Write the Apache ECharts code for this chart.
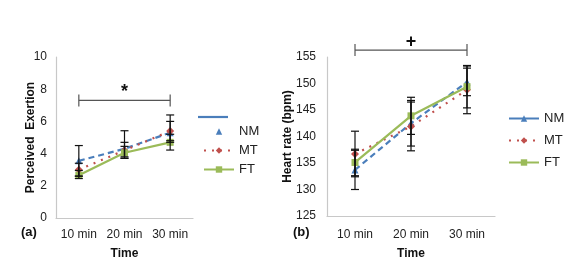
<!DOCTYPE html>
<html>
<head>
<meta charset="utf-8">
<script src="https://cdn.jsdelivr.net/npm/echarts@6/dist/echarts.min.js"></script>
<style>
  html, body { margin: 0; padding: 0; background: #fff; }
  #main { width: 566px; height: 262px; }
</style>
</head>
<body>
<div id="main"></div>
<script>
// categories
var cats = ['10 min', '20 min', '30 min'];

// (a) perceived exertion  (means, error minus / plus)
var rpeNM = [3.55, 4.3, 5.3];
var rpeMT = [3.0, 4.2, 5.4];
var rpeFT = [2.65, 4.05, 4.7];
var rpeNMminus = [0.95, 0.5, 0.6];
var rpeNMplus = [0.95, 1.12, 1.1];
var rpeMTminus = [0.4, 0.5, 0.6];
var rpeMTplus = [0.4, 0.5, 0.6];
var rpeFTminus = [0.2, 0.33, 0.48];
var rpeFTplus = [0.3, 0.4, 0.5];
var rpeTicks = [0, 10, 2];
var rpeBracket = [[0, 2, 7.3]];

// (b) heart rate
var hrNM = [133.7, 142.5, 150.3];
var hrMT = [136.7, 141.9, 148.8];
var hrFT = [135.1, 143.9, 149.4];
var hrNMsd = [3.7, 4.3, 2.6];
var hrMTsd = [4.3, 4.6, 4.5];
var hrFTsd = [2.5, 3.5, 4.0];
var hrTicks = [125, 155, 5];
var hrBracket = [[0, 2, 156.3]];

var FONT = 'Liberation Sans, Arial, sans-serif';
var cNM = '#4a7ebb', cMT = '#c0504d', cFT = '#9bbb59';

function errData(mean, minus, plus) {
    return mean.map(function (m, i) { return [i, m - minus[i], m + plus[i]]; });
}

function renderErr(params, api) {
    var lo = api.coord([api.value(0), api.value(1)]);
    var hi = api.coord([api.value(0), api.value(2)]);
    var st = { stroke: '#111', lineWidth: 1.2 };
    return {
        type: 'group',
        children: [
            { type: 'line', shape: { x1: lo[0], y1: lo[1], x2: hi[0], y2: hi[1] }, style: st },
            { type: 'line', shape: { x1: lo[0] - 4, y1: lo[1], x2: lo[0] + 4, y2: lo[1] }, style: st },
            { type: 'line', shape: { x1: hi[0] - 4, y1: hi[1], x2: hi[0] + 4, y2: hi[1] }, style: st }
        ]
    };
}

function bracketRender(mark) {
    return function (params, api) {
        var p1 = api.coord([api.value(0), api.value(2)]);
        var p2 = api.coord([api.value(1), api.value(2)]);
        var st = { stroke: '#555', lineWidth: 1.2 };
        return {
            type: 'group',
            children: [
                { type: 'line', shape: { x1: p1[0], y1: p1[1], x2: p2[0], y2: p2[1] }, style: st },
                { type: 'line', shape: { x1: p1[0], y1: p1[1] - 6, x2: p1[0], y2: p1[1] + 6 }, style: st },
                { type: 'line', shape: { x1: p2[0], y1: p2[1] - 6, x2: p2[0], y2: p2[1] + 6 }, style: st },
                { type: 'text', x: (p1[0] + p2[0]) / 2, y: p1[1] - 8,
                  style: { text: mark, font: 'bold 18px ' + FONT, fill: '#111', align: 'center', verticalAlign: 'middle' } }
            ]
        };
    };
}

function lineSeries(name, data, idx, color, symbol, size, ltype) {
    return {
        name: name, type: 'line', xAxisIndex: idx, yAxisIndex: idx,
        data: data, symbol: symbol, symbolSize: size,
        lineStyle: { color: color, width: 2.2, type: ltype },
        itemStyle: { color: color },
        z: 3
    };
}

function errSeries(mean, minus, plus, idx) {
    return {
        type: 'custom', xAxisIndex: idx, yAxisIndex: idx,
        data: errData(mean, minus, plus), encode: { x: 0, y: [1, 2] },
        renderItem: renderErr, z: 5, silent: true
    };
}

var axLabel = { color: '#222', fontSize: 12, fontFamily: FONT };
var axName = { color: '#111', fontSize: 12, fontWeight: 'bold', fontFamily: FONT };
var axLine = { show: true, lineStyle: { color: '#c8c8c8', width: 1.2 } };

var chart = echarts.init(document.getElementById('main'));
var option = {
    backgroundColor: '#fff',
    animation: false,
    grid: [
        { left: 56, top: 57, width: 137, height: 161, outerBoundsMode: 'none', containLabel: false },
        { left: 327, top: 57, width: 168, height: 159, outerBoundsMode: 'none', containLabel: false }
    ],
    xAxis: [
        { type: 'category', gridIndex: 0, data: cats, axisLine: axLine, axisTick: { show: false },
          axisLabel: Object.assign({ margin: 11, interval: 0 }, axLabel),
          name: 'Time', nameLocation: 'middle', nameGap: 30, nameTextStyle: axName },
        { type: 'category', gridIndex: 1, data: cats, axisLine: axLine, axisTick: { show: false },
          axisLabel: Object.assign({ margin: 13, interval: 0 }, axLabel),
          name: 'Time', nameLocation: 'middle', nameGap: 32, nameTextStyle: axName }
    ],
    yAxis: [
        { type: 'value', gridIndex: 0, min: rpeTicks[0], max: rpeTicks[1], interval: rpeTicks[2],
          axisLine: axLine, axisTick: { show: false }, splitLine: { show: false },
          axisLabel: Object.assign({ margin: 9 }, axLabel),
          name: 'Perceived  Exertion', nameLocation: 'middle', nameGap: 19, nameMoveOverlap: false,
          nameTextStyle: axName },
        { type: 'value', gridIndex: 1, min: hrTicks[0], max: hrTicks[1], interval: hrTicks[2],
          axisLine: axLine, axisTick: { show: false }, splitLine: { show: false },
          axisLabel: Object.assign({ margin: 11 }, axLabel),
          name: 'Heart rate (bpm)', nameLocation: 'middle', nameGap: 33, nameMoveOverlap: false,
          nameTextStyle: axName }
    ],
    legend: [
        { orient: 'vertical', left: 198, top: 120, itemWidth: 30, itemHeight: 8, itemGap: 6,
          textStyle: { color: '#222', fontSize: 13, fontFamily: FONT },
          data: [{ name: 'NM', lineStyle: { opacity: 0 } }, 'MT', 'FT'] },
        { orient: 'vertical', left: 503, top: 107, itemWidth: 30, itemHeight: 8, itemGap: 9,
          textStyle: { color: '#222', fontSize: 13, fontFamily: FONT },
          data: [{ name: 'NM', lineStyle: { type: 'solid' } }, 'MT', 'FT'] }
    ],
    graphic: [
        { type: 'line', shape: { x1: 198, y1: 117, x2: 228, y2: 117 }, style: { stroke: cNM, lineWidth: 2.2 } },
        { type: 'text', left: 21, top: 226, style: { text: '(a)', font: 'bold 13px ' + FONT, fill: '#111' } },
        { type: 'text', left: 293, top: 226, style: { text: '(b)', font: 'bold 13px ' + FONT, fill: '#111' } }
    ],
    series: [
        lineSeries('NM', rpeNM, 0, cNM, 'triangle', 7, [6, 4]),
        lineSeries('MT', rpeMT, 0, cMT, 'diamond', 8, [2, 6]),
        lineSeries('FT', rpeFT, 0, cFT, 'rect', 7, 'solid'),
        errSeries(rpeNM, rpeNMminus, rpeNMplus, 0),
        errSeries(rpeMT, rpeMTminus, rpeMTplus, 0),
        errSeries(rpeFT, rpeFTminus, rpeFTplus, 0),
        { type: 'custom', xAxisIndex: 0, yAxisIndex: 0, data: rpeBracket,
          encode: { x: [0, 1], y: 2 }, renderItem: bracketRender('*'), silent: true },

        lineSeries('NM', hrNM, 1, cNM, 'triangle', 7, [6, 4]),
        lineSeries('MT', hrMT, 1, cMT, 'diamond', 8, [2, 6]),
        lineSeries('FT', hrFT, 1, cFT, 'rect', 7, 'solid'),
        errSeries(hrNM, hrNMsd, hrNMsd, 1),
        errSeries(hrMT, hrMTsd, hrMTsd, 1),
        errSeries(hrFT, hrFTsd, hrFTsd, 1),
        { type: 'custom', xAxisIndex: 1, yAxisIndex: 1, data: hrBracket,
          encode: { x: [0, 1], y: 2 }, renderItem: bracketRender('+'), silent: true, clip: false }
    ]
};
chart.setOption(option);
</script>
</body>
</html>
